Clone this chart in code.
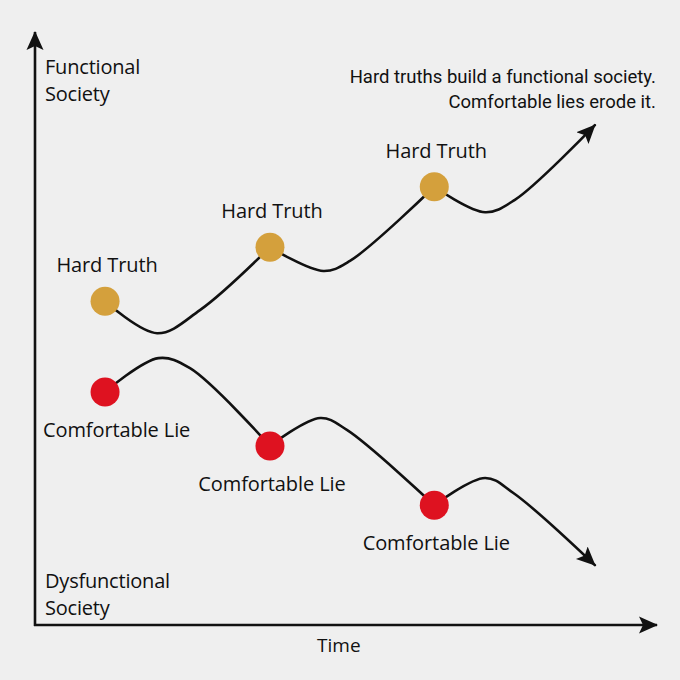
<!DOCTYPE html>
<html>
<head>
<meta charset="utf-8">
<script src="https://cdn.jsdelivr.net/npm/d3@7"></script>
<style>
  body { margin: 0; background: #efefef; }
  svg { display: block; }
</style>
</head>
<body>
<div id="chart"></div>
<script>
const width = 680;
const height = 680;
const margin = { left: 35, right: 25, top: 32, bottom: 55 };

// time (0-100) and societal value (0-100)
const hardTime = [11.3, 19.7, 26.6, 37.9, 46.5, 50.8, 64.4, 72.6, 77.4, 90.3];
const hardValue = [54.6, 49.2, 53.1, 63.7, 59.7, 61.4, 73.9, 69.6, 71.7, 84.3];
const lieTime = [11.3, 19.9, 25.0, 37.9, 46.0, 50.3, 64.4, 72.6, 77.1, 90.3];
const lieValue = [39.3, 45.0, 43.3, 30.2, 34.9, 32.9, 20.2, 24.8, 22.3, 10.1];

// which points carry a dot and a label
const markerIndex = [0, 3, 6];

const hardLabel = "Hard Truth";
const lieLabel = "Comfortable Lie";
const yTopLabel = ["Functional", "Society"];
const yBottomLabel = ["Dysfunctional", "Society"];
const xLabel = "Time";
const note = ["Hard truths build a functional society.", "Comfortable lies erode it."];

const hardColor = "#d4a03c";
const lieColor = "#de1220";
const ink = "#111";
const labelFont = "'Open Sans', sans-serif";

const svg = d3
  .select("#chart")
  .append("svg")
  .attr("width", width)
  .attr("height", height);

const xScale = d3
  .scaleLinear()
  .domain([0, 100])
  .range([margin.left, width - margin.right]);

const yScale = d3
  .scaleLinear()
  .domain([0, 100])
  .range([height - margin.bottom, margin.top]);

const defs = svg.append("defs");
defs
  .append("marker")
  .attr("id", "arrow")
  .attr("viewBox", "0 -10 20 20")
  .attr("refX", 18)
  .attr("refY", 0)
  .attr("markerUnits", "userSpaceOnUse")
  .attr("markerWidth", 20)
  .attr("markerHeight", 20)
  .attr("orient", "auto")
  .append("path")
  .attr("d", "M0,-8.5L19,0L0,8.5L4,0Z")
  .attr("fill", ink);

// axes drawn as arrows
const x0 = xScale(0);
const y0 = yScale(0);
svg
  .append("line")
  .attr("x1", x0)
  .attr("y1", y0 + 1)
  .attr("x2", x0)
  .attr("y2", yScale(100))
  .attr("stroke", ink)
  .attr("stroke-width", 2.6)
  .attr("marker-end", "url(#arrow)");

svg
  .append("line")
  .attr("x1", x0 - 1)
  .attr("y1", y0)
  .attr("x2", xScale(100) + 2)
  .attr("y2", y0)
  .attr("stroke", ink)
  .attr("stroke-width", 2.6)
  .attr("marker-end", "url(#arrow)");

const axisText = (lines, x, y) => {
  const t = svg
    .append("text")
    .attr("font-family", labelFont)
    .attr("font-size", 20)
    .attr("letter-spacing", -0.2)
    .attr("fill", ink);
  lines.forEach((line, i) => {
    t.append("tspan").attr("x", x).attr("y", y + i * 27).text(line);
  });
};

axisText(yTopLabel, x0 + 10, 74);
axisText(yBottomLabel, x0 + 10, 588);

svg
  .append("text")
  .attr("x", xScale(49))
  .attr("y", 652)
  .attr("text-anchor", "middle")
  .attr("font-family", labelFont)
  .attr("font-size", 19)
  .attr("fill", ink)
  .text(xLabel);

const noteText = svg
  .append("text")
  .attr("text-anchor", "end")
  .attr("font-family", "Roboto, sans-serif")
  .attr("font-size", 18.5)
  .attr("fill", ink);
note.forEach((line, i) => {
  noteText.append("tspan").attr("x", 656).attr("y", 83 + i * 25).text(line);
});

const line = d3
  .line()
  .x((d) => xScale(d.t))
  .y((d) => yScale(d.v))
  .curve(d3.curveCatmullRom.alpha(0.5));

const drawSeries = (times, values, color, label, labelDy) => {
  const pts = times.map((t, i) => ({ t, v: values[i] }));

  // one path per stretch between dots, so the line kinks at each dot
  markerIndex.forEach((start, k) => {
    const end = k < markerIndex.length - 1 ? markerIndex[k + 1] : pts.length - 1;
    const isLast = k === markerIndex.length - 1;
    svg
      .append("path")
      .datum(pts.slice(start, end + 1))
      .attr("d", line)
      .attr("fill", "none")
      .attr("stroke", ink)
      .attr("stroke-width", 2.6)
      .attr("stroke-linecap", "round")
      .attr("marker-end", isLast ? "url(#arrow)" : null);
  });

  const dots = markerIndex.map((i) => pts[i]);

  svg
    .append("g")
    .selectAll("circle")
    .data(dots)
    .join("circle")
    .attr("cx", (d) => xScale(d.t))
    .attr("cy", (d) => yScale(d.v))
    .attr("r", 14.5)
    .attr("fill", color);

  svg
    .append("g")
    .selectAll("text")
    .data(dots)
    .join("text")
    .attr("text-anchor", "middle")
    .attr("font-family", labelFont)
    .attr("font-size", 20)
    .attr("letter-spacing", -0.1)
    .attr("fill", ink)
    .attr("y", (d) => yScale(d.v) + labelDy)
    .text(label)
    .attr("x", function (d) {
      // keep the label clear of the vertical axis
      const half = this.getComputedTextLength() / 2;
      return Math.max(xScale(d.t) + 2, x0 + 8 + half);
    });
};

drawSeries(hardTime, hardValue, hardColor, hardLabel, -29);
drawSeries(lieTime, lieValue, lieColor, lieLabel, 45);
</script>
</body>
</html>
